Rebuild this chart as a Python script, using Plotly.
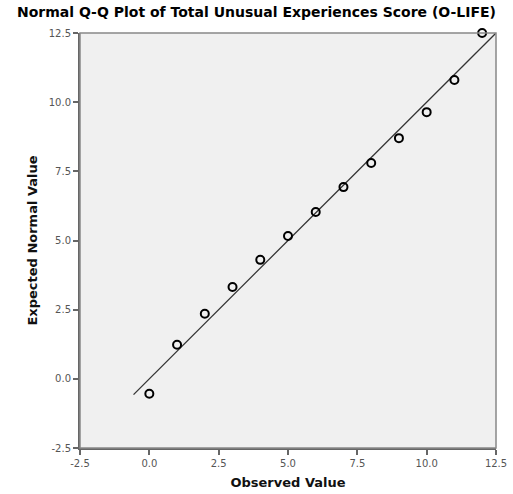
import plotly.graph_objects as go

observed = [0, 1, 2, 3, 4, 5, 6, 7, 8, 9, 10, 11, 12]
expected = [-0.54, 1.23, 2.35, 3.32, 4.3, 5.16, 6.03, 6.93, 7.8, 8.7, 9.64, 10.8, 12.5]
line_x = [-0.57, 12.5]
line_y = [-0.57, 12.5]
ticks = [-2.5, 0.0, 2.5, 5.0, 7.5, 10.0, 12.5]
tick_text = ["-2.5", "0.0", "2.5", "5.0", "7.5", "10.0", "12.5"]

fig = go.Figure()
fig.add_trace(go.Scatter(x=line_x, y=line_y, mode="lines",
                         line=dict(color="#333333", width=1.3), showlegend=False, cliponaxis=False))
fig.add_trace(go.Scatter(x=observed, y=expected, mode="markers",
                         marker=dict(symbol="circle-open", size=8, color="black", line=dict(width=2)),
                         showlegend=False, cliponaxis=False))

axis_common = dict(range=[-2.5, 12.5], tickvals=ticks, ticktext=tick_text, showgrid=False, zeroline=False,
                   showline=True, linecolor="#666666", linewidth=2, mirror=False, ticks="outside",
                   ticklen=5, tickwidth=1.5, tickcolor="#666666", automargin=False,
                   tickfont=dict(family="DejaVu Sans", size=10, color="#555555"))

fig.update_layout(
    width=513, height=494,
    margin=dict(l=80, r=17, t=33, b=46, autoexpand=False),
    paper_bgcolor="white", plot_bgcolor="#f0f0f0",
    title=dict(text="<b>Normal Q-Q Plot of Total Unusual Experiences Score (O-LIFE)</b>",
               x=0.5, xanchor="center", y=0.985, yanchor="top",
               font=dict(family="DejaVu Sans", size=14, color="black")),
    xaxis=dict(**axis_common, title=dict(text="<b>Observed Value</b>", standoff=10,
                                         font=dict(family="DejaVu Sans", size=13, color="#111111"))),
    yaxis=dict(**axis_common, title=dict(text="<b>Expected Normal Value</b>", standoff=8,
                                         font=dict(family="DejaVu Sans", size=13, color="#111111"))),
)
fig.add_shape(type="rect", xref="paper", yref="paper", x0=0, y0=0, x1=1, y1=1,
              line=dict(color="#888888", width=1.5))
fig.write_html("out.html")
